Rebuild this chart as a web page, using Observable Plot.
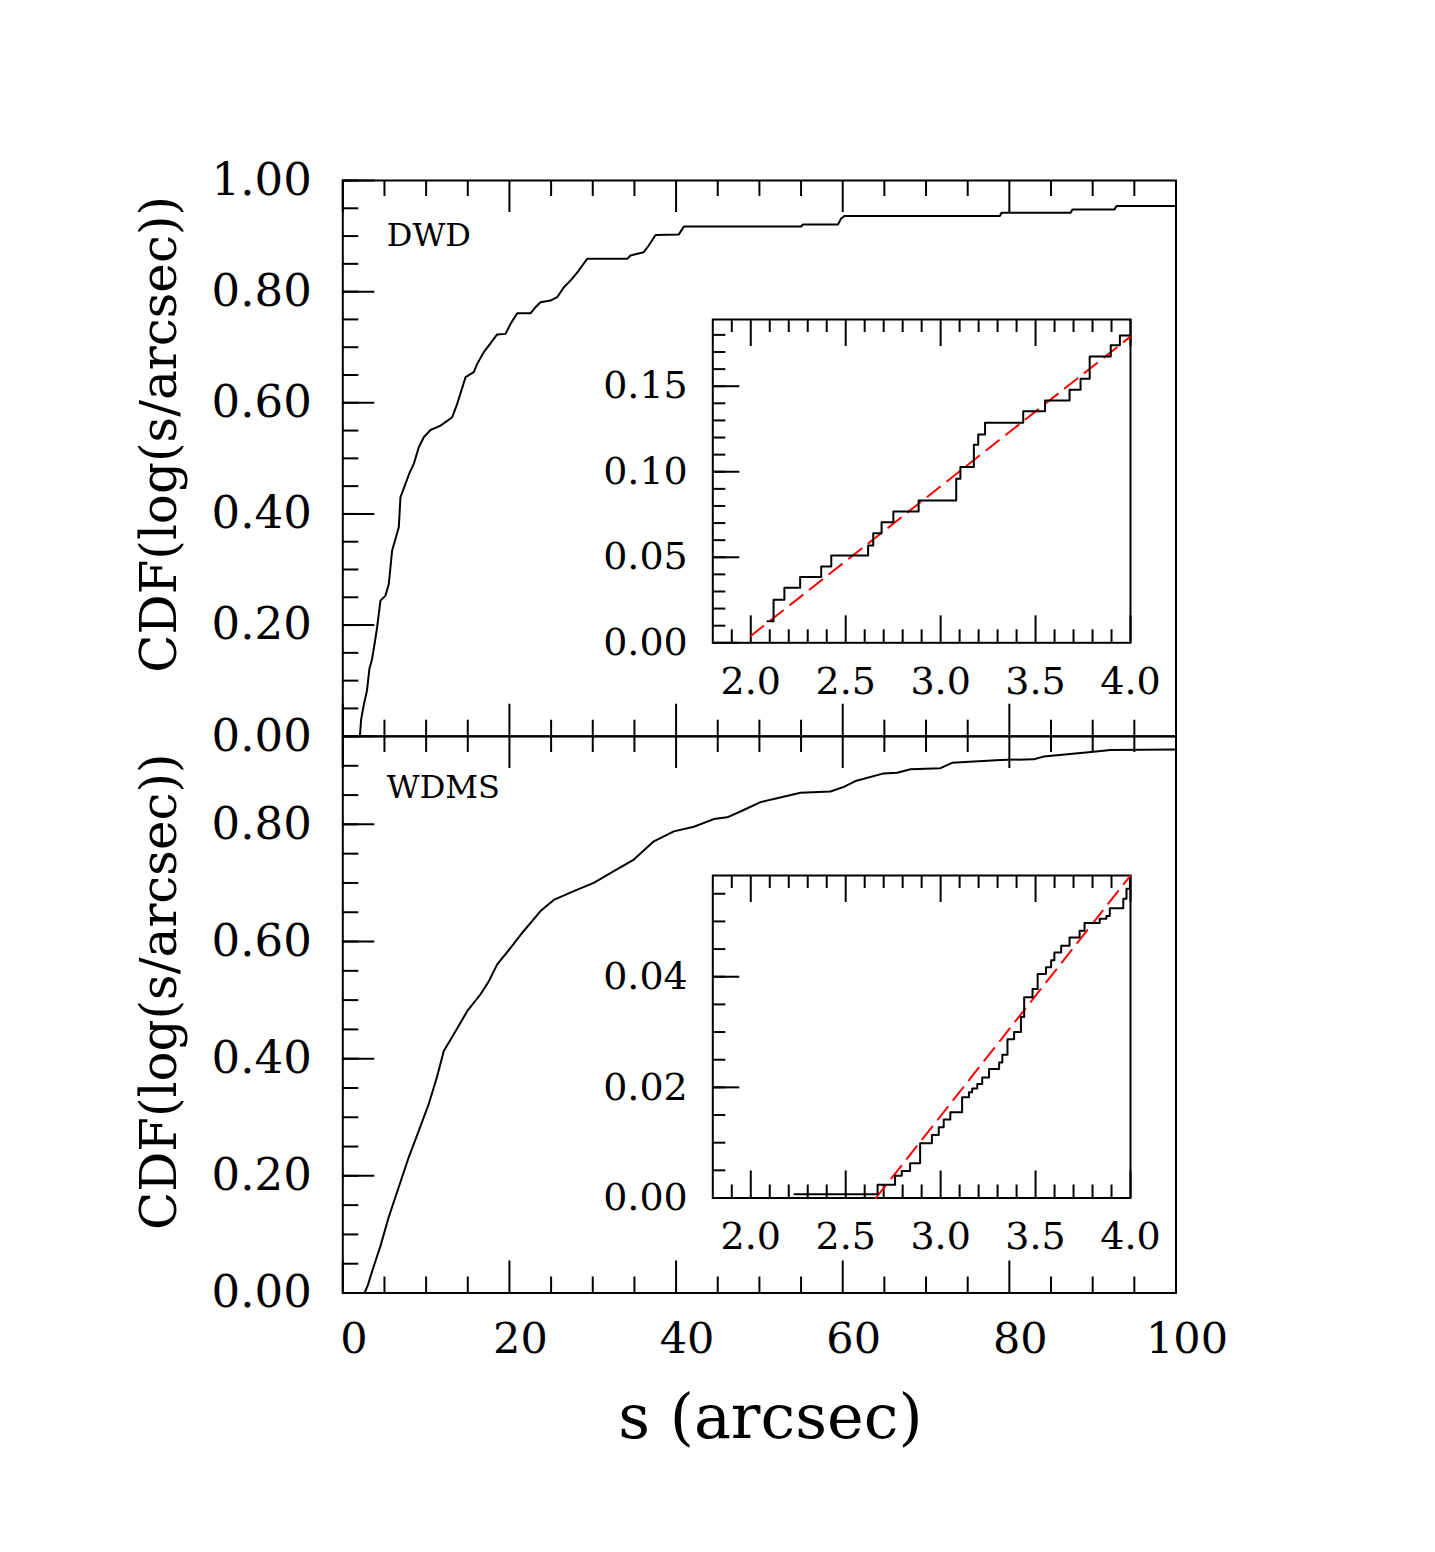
<!DOCTYPE html>
<html><head><meta charset="utf-8">
<script src="https://cdn.jsdelivr.net/npm/d3@7"></script>
<script src="https://cdn.jsdelivr.net/npm/@observablehq/plot@0.6"></script>
<style>
body{margin:0;background:#fff;}
#wrap{position:relative;width:1435px;height:1552px;overflow:hidden;background:#fff;}
#wrap svg{position:absolute;}
</style></head><body><div id="wrap"></div>
<script>
// ---------------- data ----------------
// DWD main panel: separation s (arcsec) and CDF
const dwdS = [2.05,2.2,2.5,2.9,3.2,3.5,3.8,4.12,4.52,5.12,5.52,5.72,5.92,6.32,6.72,6.92,7.52,8.04,8.52,9.12,9.72,10.53,11.73,13.13,13.73,14.73,15.72,16.13,16.92,17.52,18.53,19.53,20.13,20.93,22.53,23.13,23.73,24.93,25.73,26.53,27.33,28.32,29.33,34.13,34.53,36.12,36.72,37.53,40.33,40.93,55.02,55.22,59.44,59.78,60.2,78.85,79.06,87.35,87.57,92.62,92.87,100];
const dwdCdf = [0,0.03,0.055,0.082,0.122,0.138,0.165,0.196,0.244,0.253,0.274,0.304,0.334,0.355,0.376,0.43,0.454,0.475,0.49,0.52,0.538,0.551,0.559,0.574,0.598,0.646,0.655,0.67,0.691,0.703,0.723,0.724,0.742,0.761,0.761,0.772,0.781,0.784,0.79,0.808,0.82,0.838,0.859,0.859,0.865,0.871,0.883,0.902,0.903,0.917,0.917,0.921,0.921,0.931,0.936,0.936,0.942,0.942,0.948,0.948,0.954,0.954];
// WDMS main panel
const wdmsS = [2.6,3.0,3.5,4.0,4.52,5.52,6.72,7.92,9.12,10.32,11.33,12.12,13.53,14.93,16.53,17.52,18.53,20.13,21.72,23.73,25.32,27.72,30.12,32.53,34.93,37.33,39.73,42.13,44.53,46.13,47.73,50.13,54.93,58.53,60.13,61.53,64.93,66.53,68.13,71.73,73.13,78.93,82.93,84.13,90.13,92.13,100];
const wdmsCdf = [0,0.013,0.036,0.058,0.08,0.13,0.181,0.232,0.277,0.323,0.37,0.413,0.447,0.481,0.51,0.532,0.561,0.589,0.618,0.652,0.671,0.686,0.7,0.72,0.74,0.771,0.788,0.796,0.809,0.812,0.822,0.838,0.854,0.856,0.864,0.874,0.887,0.888,0.894,0.896,0.905,0.91,0.911,0.916,0.924,0.927,0.928];
// DWD inset (step function, value after each jump)
const dwdInsetS = [2.088,2.12,2.177,2.26,2.371,2.424,2.618,2.645,2.689,2.751,2.884,3.082,3.104,3.175,3.198,3.234,3.435,3.55,3.679,3.737,3.785,3.896,3.944,4.0];
const dwdInsetCdf = [0.0126,0.0251,0.0322,0.0384,0.0446,0.0511,0.0569,0.0641,0.0705,0.0768,0.0832,0.0959,0.1027,0.1158,0.1218,0.1287,0.1353,0.1417,0.148,0.1544,0.1674,0.1739,0.1797,0.1797];
const dwdFitS = [2.0, 4.0];
const dwdFitCdf = [0.004, 0.179];
// WDMS inset
const wdmsInsetS = [2.23,2.668,2.76,2.795,2.839,2.892,2.954,2.99,3.016,3.051,3.113,3.149,3.166,3.193,3.219,3.255,3.308,3.325,3.352,3.387,3.423,3.44,3.484,3.511,3.555,3.582,3.599,3.635,3.679,3.732,3.758,3.838,3.873,3.891,3.962,3.979,3.997];
const wdmsInsetCdf = [0.0007,0.0024,0.004,0.0049,0.0063,0.0099,0.0114,0.0128,0.0142,0.0155,0.0182,0.0191,0.0198,0.0206,0.0218,0.0233,0.0245,0.0259,0.0287,0.03,0.0327,0.0363,0.0378,0.0405,0.0417,0.043,0.0444,0.0456,0.0471,0.0483,0.0497,0.0505,0.051,0.0524,0.0541,0.0559,0.0577];
const wdmsFitS = [2.659, 4.0];
const wdmsFitCdf = [0, 0.0583];

// tick labels
const mainXLabels = [0, 20, 40, 60, 80, 100];
const topYLabels = [0, 0.2, 0.4, 0.6, 0.8, 1.0];
const botYLabels = [0, 0.2, 0.4, 0.6, 0.8];
const insetXLabels = [2.0, 2.5, 3.0, 3.5, 4.0];
const dwdInsetYLabels = [0, 0.05, 0.10, 0.15];
const wdmsInsetYLabels = [0, 0.02, 0.04];
const panelNames = ["DWD", "WDMS"];
const yTitle = "CDF(log(s/arcsec))";
const xTitle = "s (arcsec)";

// ---------------- drawing ----------------
const FONT = "DejaVu Serif, serif";
const wrap = document.getElementById("wrap");
const zip = (a, b) => a.map((v, i) => ({x: v, y: b[i]}));
const rng = (a, b, st) => d3.range(Math.floor((b - a) / st + 1e-6) + 1).map(i => +(a + i * st).toFixed(6));

function ticks(xMaj, xMin, yMaj, yMin, W, H, Lmaj, Lmin) {
  const s = {stroke: "black", strokeWidth: 2};
  return [
    Plot.tickX(xMaj, {x: d => d, insetTop: H - Lmaj, ...s}),
    Plot.tickX(xMaj, {x: d => d, insetBottom: H - Lmaj, ...s}),
    Plot.tickX(xMin, {x: d => d, insetTop: H - Lmin, ...s}),
    Plot.tickX(xMin, {x: d => d, insetBottom: H - Lmin, ...s}),
    Plot.tickY(yMaj, {y: d => d, insetRight: W - Lmaj, ...s}),
    Plot.tickY(yMin, {y: d => d, insetRight: W - Lmin, ...s})
  ];
}

function place(cfg) {
  const W = cfg.width - cfg.mL - cfg.mR, H = cfg.height - cfg.mT - cfg.mB;
  const svg = Plot.plot({
    width: cfg.width, height: cfg.height,
    marginLeft: cfg.mL, marginRight: cfg.mR, marginTop: cfg.mT, marginBottom: cfg.mB,
    x: {domain: cfg.xDomain, axis: null},
    y: {domain: cfg.yDomain, axis: null},
    style: {background: "transparent", fontFamily: FONT, color: "black", overflow: "visible"},
    marks: cfg.marks(W, H)
  });
  svg.style.left = cfg.left + "px";
  svg.style.top = cfg.top + "px";
  wrap.appendChild(svg);
}

const f2 = d3.format(".2f"), f1 = d3.format(".1f");

function mainPanel(top, mT, height, mB, yDomain, yLabels, s, c, name, nameDy, titleDy, showX) {
  const ymax = yDomain[1];
  place({
    left: 0, top, width: 1435, height, mL: 342.3, mR: 259.5, mT, mB,
    xDomain: [0, 100], yDomain,
    marks: (W, H) => [
      ...ticks([0,20,40,60,80,100], rng(5, 95, 5).filter(v => v % 20),
               rng(0, 1, 0.2).filter(v => v <= ymax + 1e-9),
               rng(0.05, ymax, 0.05), W, H, 32, 16),
      Plot.frame({stroke: "black", strokeWidth: 2}),
      Plot.line(zip(s, c), {x: "x", y: "y", stroke: "black", strokeWidth: 2}),
      Plot.text(yLabels, {y: d => d, text: d => f2(d), frameAnchor: "left", textAnchor: "end", dx: -31, fontSize: 45}),
      Plot.text([yTitle], {frameAnchor: "left", textAnchor: "middle", rotate: -90, dx: -183, dy: titleDy, fontSize: 50}),
      Plot.text([name], {frameAnchor: "top-left", textAnchor: "start", lineAnchor: "top", dx: 44, dy: nameDy, fontSize: 32}),
      ...(showX ? [
        Plot.text(mainXLabels, {x: d => d, text: d => String(d), frameAnchor: "bottom", lineAnchor: "middle", dy: 46, dx: 11, fontSize: 43}),
        Plot.text([xTitle], {frameAnchor: "bottom", textAnchor: "middle", lineAnchor: "middle", dy: 125, dx: 11, fontSize: 62})
      ] : [])
    ]
  });
}

function insetPanel(top, mT, mB, yDomain, yLabels, yMaj, yMinStep, s, c, fs, fc) {
  place({
    left: 560, top, width: 640, height: 430, mL: 152.3, mR: 70, mT, mB,
    xDomain: [1.8, 4.0], yDomain,
    marks: (W, H) => [
      ...ticks(insetXLabels, rng(1.9, 3.9, 0.1).filter(v => Math.abs(v * 2 - Math.round(v * 2)) > 1e-6),
               yMaj, rng(yMinStep, yDomain[1], yMinStep), W, H, 27, 13),
      Plot.frame({stroke: "black", strokeWidth: 2}),
      Plot.line(zip(fs, fc), {x: "x", y: "y", stroke: "red", strokeWidth: 2, strokeDasharray: "16,9"}),
      Plot.line(zip(s, c), {x: "x", y: "y", stroke: "black", strokeWidth: 2, curve: "step-after"}),
      Plot.text(yLabels, {y: d => d, text: d => f2(d), frameAnchor: "left", textAnchor: "end", dx: -25, fontSize: 38}),
      Plot.text(insetXLabels, {x: d => d, text: d => f1(d), frameAnchor: "bottom", textAnchor: "middle", lineAnchor: "middle", dy: 39, fontSize: 38})
    ]
  });
}

mainPanel(0, 180, 760, 24.3, [0, 1.0], topYLabels, dwdS, dwdCdf, "DWD", 43, -24, false);
mainPanel(700, 36, 852, 259.5, [0, 0.95], botYLabels, wdmsS, wdmsCdf, "WDMS", 39, -23, true);
insetPanel(290, 29, 77.7, [0, 0.189], dwdInsetYLabels, [0, 0.05, 0.10, 0.15], 0.01, dwdInsetS, dwdInsetCdf, dwdFitS, dwdFitCdf);
insetPanel(845, 30, 77.5, [0, 0.0583], wdmsInsetYLabels, [0, 0.02, 0.04], 0.005, wdmsInsetS, wdmsInsetCdf, wdmsFitS, wdmsFitCdf);
</script></body></html>
